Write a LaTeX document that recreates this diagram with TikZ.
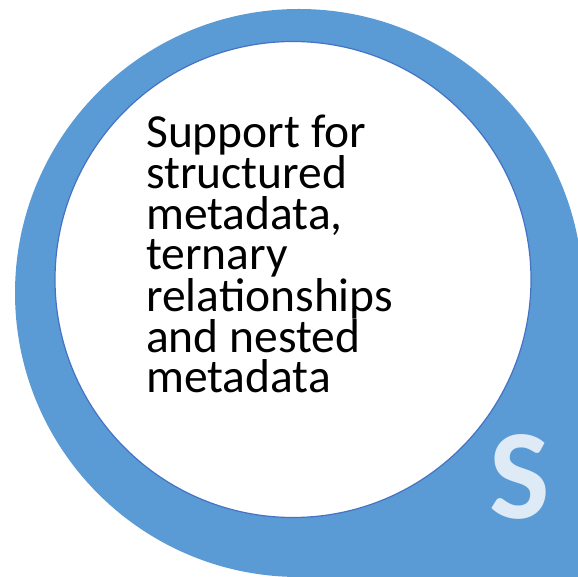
\documentclass[tikz,border=0pt]{standalone}
\usepackage{fontspec}
\setmainfont{Carlito}
\definecolor{ringblue}{HTML}{5B9BD5}
\definecolor{rimblue}{HTML}{4472C4}
\definecolor{letterblue}{HTML}{DEEBF7}
\begin{document}
\begin{tikzpicture}[x=1pt, y=1pt,
	drop/.style={fill=ringblue, draw=none},
	inner/.style={circle, fill=white, draw=rimblue, line width=1.2pt, minimum size=476pt, inner sep=0pt},
	body/.style={font=\fontsize{47.5}{40.3}\selectfont, align=left, inner sep=0pt, anchor=base west},
	tag/.style={font=\fontsize{128}{128}\selectfont\bfseries, text=letterblue, inner sep=0pt}]

		\useasboundingbox (0,0) rectangle (578,576);
		\clip (0,0) rectangle (578,576);

		% teardrop with the corner at bottom right
		\coordinate (c) at (299,283);
		\fill[drop] (c) circle (284);
		\fill[drop] (c) rectangle ++(284,-284);

		\node[inner] (disc) at (293,296.5) {};
		\node[body] (text) at (146,183) {Support for\\structured\\metadata,\\ternary\\relationships\\and nested\\metadata};
		\node[tag] (s) at (520,99) {S};

		\end{tikzpicture}
\end{document}
